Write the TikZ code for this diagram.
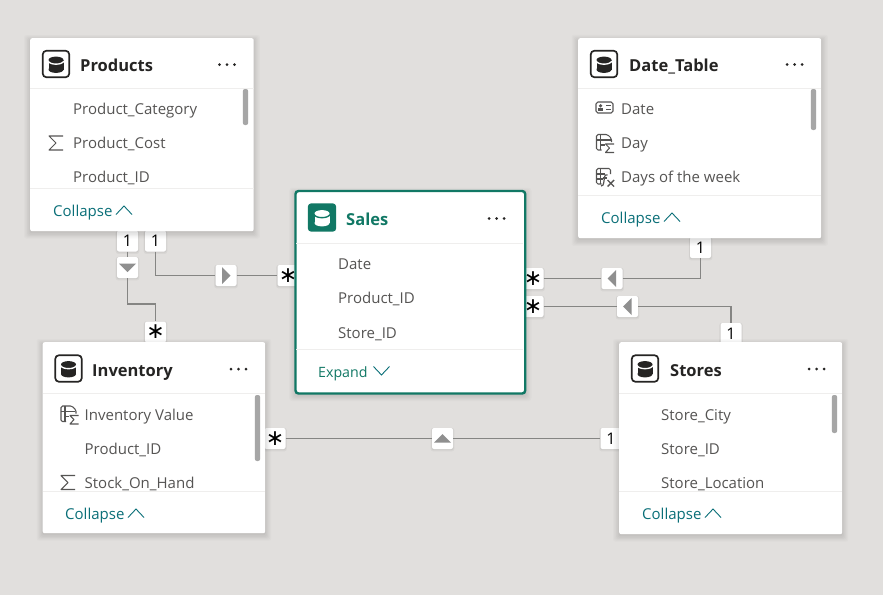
\documentclass[tikz,border=0pt]{standalone}
\usepackage{fontspec}
\setmainfont{Open Sans}
\usetikzlibrary{shadows}
\definecolor{canvas}{HTML}{E1DFDD}
\definecolor{fieldtxt}{HTML}{555453}
\definecolor{titletxt}{HTML}{252423}
\definecolor{teal}{HTML}{117865}
\definecolor{linkc}{HTML}{0A6F78}
\definecolor{rule}{HTML}{EFEEED}
\definecolor{scroll}{HTML}{A6A6A6}
\definecolor{conline}{HTML}{858583}
\definecolor{arrowc}{HTML}{8F8F8F}
\tikzset{
  x=1pt,y=-1pt,
  softshadow/.style={
    general shadow={fill=black,opacity=.016,shadow xshift=0pt,shadow yshift=-2pt,shadow scale=1.055},
    general shadow={fill=black,opacity=.016,shadow xshift=0pt,shadow yshift=-2pt,shadow scale=1.045},
    general shadow={fill=black,opacity=.02,shadow xshift=0pt,shadow yshift=-2pt,shadow scale=1.035},
    general shadow={fill=black,opacity=.022,shadow xshift=0pt,shadow yshift=-2pt,shadow scale=1.025},
    general shadow={fill=black,opacity=.025,shadow xshift=0pt,shadow yshift=-2pt,shadow scale=1.015},
    general shadow={fill=black,opacity=.028,shadow xshift=0pt,shadow yshift=-1.5pt,shadow scale=1.005}},
  card/.style={softshadow,fill=white,draw=none,rounded corners=2pt,inner sep=0pt,anchor=north west},
  selcard/.style={softshadow,fill=white,draw=teal,line width=2.4pt,rounded corners=3pt,inner sep=0pt,anchor=north west},
  badge/.style={
    general shadow={fill=black,opacity=.04,shadow xshift=0pt,shadow yshift=-1pt,shadow scale=1.12},
    general shadow={fill=black,opacity=.05,shadow xshift=0pt,shadow yshift=-.6pt,shadow scale=1.05},
    fill=white,draw=none,rounded corners=2pt,minimum width=21pt,minimum height=21pt,inner sep=0pt,
    text=black,font=\fontsize{16}{16}\selectfont},
  starbadge/.style={badge,font=\fontspec{DejaVu Sans}\fontsize{22}{22}\selectfont},
  conn/.style={draw=conline,line width=1.4pt},
  tabletitle/.style={anchor=base west,inner sep=0pt,yshift=-.5pt,text=titletxt,font=\fontsize{16.5}{18}\selectfont\bfseries},
  field/.style={anchor=base west,inner sep=0pt,yshift=-.8pt,text=fieldtxt,font=\fontsize{15}{16}\selectfont},
  linktxt/.style={anchor=base west,inner sep=0pt,yshift=-.8pt,text=linkc,font=\fontsize{15}{16}\selectfont},
  chev/.style={draw=linkc,line width=.9pt},
  divider/.style={draw=rule,line width=1pt},
  ico/.style={draw=fieldtxt,line width=1.05pt,line join=round},
}
\newcommand{\dbicon}[2]{\begin{scope}[shift={(#1,#2)}]
  \draw[draw=titletxt,line width=1.7pt,rounded corners=3.5pt] (-13.2,-13.2) rectangle (13.2,13.2);
  \fill[titletxt] (-7.5,-4) rectangle (7.5,5.5);
  \fill[titletxt] (0,-4) ellipse [x radius=7.5,y radius=3.4];
  \fill[titletxt] (0,5.5) ellipse [x radius=7.5,y radius=3.4];
  \draw[white,line width=1.4pt] (-8,-3) .. controls (-6,1.2) and (6,1.2) .. (8,-3);
\end{scope}}
\newcommand{\selicon}[2]{\begin{scope}[shift={(#1,#2)}]
  \fill[teal,rounded corners=3.5pt] (-14.2,-14.2) rectangle (14.2,14.2);
  \fill[white] (-7.5,-4) rectangle (7.5,5.5);
  \fill[white] (0,-4) ellipse [x radius=7.5,y radius=3.4];
  \fill[white] (0,5.5) ellipse [x radius=7.5,y radius=3.4];
  \draw[teal,line width=1.4pt] (-8,-3) .. controls (-6,1.2) and (6,1.2) .. (8,-3);
\end{scope}}
\newcommand{\threedots}[2]{\foreach \d in {-7.5,0,7.5}{\fill[titletxt] (#1+\d,#2) circle (1.5);}}
\newcommand{\sigmaicon}[2]{\draw[ico] (#1+7,#2-7) -- (#1-7,#2-7) -- (#1,#2) -- (#1-7,#2+7) -- (#1+7,#2+7);}
\newcommand{\measicon}[2]{\begin{scope}[shift={(#1,#2)}]
  \draw[ico,rounded corners=1.5pt] (-3,7) -- (-8,7) -- (-8,-8.5) -- (3,-8.5) -- (7,-4.5) -- (7,-1);
  \draw[ico] (-4,-8.5) -- (-4,7) (-8,-3) -- (6,-3) (-4,2) -- (0,2);
  \draw[ico] (9.5,1) -- (1,1) -- (5,5) -- (1,9.5) -- (9.5,9.5);
\end{scope}}
\newcommand{\calcicon}[2]{\begin{scope}[shift={(#1,#2)}]
  \draw[ico,rounded corners=1.5pt] (-3,7) -- (-8,7) -- (-8,-8.5) -- (6,-8.5) -- (6,-3);
  \draw[ico] (-4,-8.5) -- (-4,7) (-8,-3) -- (0,-3) (-8,2) -- (-2,2);
  \draw[ico,line width=1.2pt] (3,-2) .. controls (0,-3) and (0,0) .. (-.5,4) .. controls (-1,8) and (-2,9.5) .. (-3.5,9);
  \draw[ico] (-2,1) -- (2.5,1);
  \draw[ico,line width=1.4pt] (3,3) -- (9.5,9.5) (9.5,3) -- (3,9.5);
\end{scope}}
\newcommand{\idicon}[2]{\begin{scope}[shift={(#1,#2)}]
  \draw[ico,rounded corners=1.8pt] (-8.5,-5.5) rectangle (8.5,5.5);
  \fill[fieldtxt] (-4,-1.7) circle (1.8);
  \fill[fieldtxt] (-6.7,3.3) rectangle (-1.3,.8);
  \draw[ico] (1.5,-1.7) -- (6,-1.7) (1.5,1.8) -- (6,1.8);
\end{scope}}
\newcommand{\chevup}[2]{\draw[chev] (#1-8,#2+4.5) -- (#1,#2-4) -- (#1+8,#2+4.5);}
\newcommand{\chevdown}[2]{\draw[chev] (#1-8,#2-4.5) -- (#1,#2+4) -- (#1+8,#2-4.5);}
\newcommand{\scrollbar}[3]{\fill[scroll,rounded corners=2pt] (#1-2.6,#2) rectangle (#1+2.6,#3);}
\begin{document}
\begin{tikzpicture}
\useasboundingbox (0,0) rectangle (883,595);
\fill[canvas] (0,0) rectangle (883,595);

% relationship end badges
\node[badge] (pOneA) at (127.5,241) {1};
\node[badge] (pOneB) at (155.5,241) {1};
\node[starbadge] (iStarTop) at (155.5,332) {∗};
\node[starbadge] (sStarL) at (288,275.5) {∗};
\node[starbadge] (sStarR) at (533,278.5) {∗};
\node[starbadge] (sStarS) at (533,306.5) {∗};
\node[badge] (dOne) at (700.5,247.5) {1};
\node[badge] (stOneTop) at (731,333.5) {1};
\node[starbadge] (iStarR) at (275,438.5) {∗};
\node[badge] (stOneL) at (611,438.5) {1};
% filter direction badges
\node[badge] (aDown) at (127.5,267.5) {};
\node[badge] (aRight) at (226,275.5) {};
\node[badge] (aLeftA) at (612,278.5) {};
\node[badge] (aLeftB) at (627.5,306.5) {};
\node[badge] (aUp) at (442.5,438.5) {};
% bends
\coordinate (kA) at (127.5,304);
\coordinate (kB) at (155.5,304);
\coordinate (kC) at (155.5,275.5);
\coordinate (kD) at (700.5,278.5);
\coordinate (kE) at (731,306.5);
% connectors
\draw[conn] (pOneA.south) -- (aDown.north);
\draw[conn] (aDown.south) -- (kA) -- (kB) -- (iStarTop.north);
\draw[conn] (pOneB.south) -- (kC) -- (aRight.west);
\draw[conn] (aRight.east) -- (sStarL.west);
\draw[conn] (sStarR.east) -- (aLeftA.west);
\draw[conn] (aLeftA.east) -- (kD) -- (dOne.south);
\draw[conn] (sStarS.east) -- (aLeftB.west);
\draw[conn] (aLeftB.east) -- (kE) -- (stOneTop.north);
\draw[conn] (iStarR.east) -- (aUp.west);
\draw[conn] (aUp.east) -- (stOneL.west);
% triangles
\fill[arrowc] ([shift={(-8.5,-4)}]aDown.center) -- ([shift={(8.5,-4)}]aDown.center) -- ([shift={(0,4.5)}]aDown.center) -- cycle;
\fill[arrowc] ([shift={(-4,-8.5)}]aRight.center) -- ([shift={(-4,8.5)}]aRight.center) -- ([shift={(4.5,0)}]aRight.center) -- cycle;
\fill[arrowc] ([shift={(4,-8.5)}]aLeftA.center) -- ([shift={(4,8.5)}]aLeftA.center) -- ([shift={(-4.5,0)}]aLeftA.center) -- cycle;
\fill[arrowc] ([shift={(4,-8.5)}]aLeftB.center) -- ([shift={(4,8.5)}]aLeftB.center) -- ([shift={(-4.5,0)}]aLeftB.center) -- cycle;
\fill[arrowc] ([shift={(-8.5,4)}]aUp.center) -- ([shift={(8.5,4)}]aUp.center) -- ([shift={(0,-4.5)}]aUp.center) -- cycle;

% Products
\node[card,minimum width=223.5pt,minimum height=193pt] (products) at (30,38) {};
\dbicon{56}{64}
\node[tabletitle] (tProducts) at (80,71) {Products};
\threedots{227}{64.5}
\draw[divider] (30,88.5) -- (253.5,88.5);
\draw[divider] (30,188.5) -- (253.5,188.5);
\scrollbar{245.5}{89}{125}
\node[field] at (73,113.5) {Product\_Category};
\sigmaicon{56}{143}
\node[field] at (73,147.5) {Product\_Cost};
\node[field] at (73,181.5) {Product\_ID};
\node[linktxt] at (53,215.5) {Collapse};
\chevup{124}{210}

% Date_Table
\node[card,minimum width=243pt,minimum height=200pt] (datetable) at (578,38) {};
\dbicon{604}{64}
\node[tabletitle] (tDate) at (629,71) {Date\_Table};
\threedots{794.5}{64.5}
\draw[divider] (578,88.5) -- (821,88.5);
\draw[divider] (578,195.5) -- (821,195.5);
\scrollbar{813.5}{89}{130}
\idicon{604.5}{107.5}
\node[field] at (621,113.5) {Date};
\measicon{604.5}{143}
\node[field] at (621,147.5) {Day};
\calcicon{604.5}{177}
\node[field] at (621,181.5) {Days of the week};
\node[linktxt] at (601,222.5) {Collapse};
\chevup{672}{217}

% Inventory
\node[card,minimum width=222.5pt,minimum height=191pt] (inventory) at (42.5,342) {};
\dbicon{68.5}{368.5}
\node[tabletitle] (tInv) at (92,375.5) {Inventory};
\threedots{238.5}{369}
\draw[divider] (42.5,393.5) -- (265,393.5);
\draw[divider] (42.5,491.5) -- (265,491.5);
\scrollbar{257.5}{395}{461}
\measicon{69}{414.5}
\node[field] at (84.5,419.5) {Inventory Value};
\node[field] at (84.5,453.5) {Product\_ID};
\sigmaicon{68}{482.5}
\node[field] at (84.5,487.5) {Stock\_On\_Hand};
\node[linktxt] at (65,518.5) {Collapse};
\chevup{136}{513}

% Stores
\node[card,minimum width=223pt,minimum height=192pt] (stores) at (619,342) {};
\dbicon{645}{368.5}
\node[tabletitle] (tStores) at (670,375.5) {Stores};
\threedots{816.5}{369}
\draw[divider] (619,393.5) -- (842,393.5);
\draw[divider] (619,491.5) -- (842,491.5);
\scrollbar{834.5}{395}{433}
\node[field] at (661,419.5) {Store\_City};
\node[field] at (661,453.5) {Store\_ID};
\node[field] at (661,487.5) {Store\_Location};
\node[linktxt] at (642,518.5) {Collapse};
\chevup{713}{513}

% Sales
\node[selcard,minimum width=229.7pt,minimum height=202.5pt] (sales) at (294.3,189.8) {};
\selicon{322}{217.5}
\node[tabletitle,text=teal] (tSales) at (346,225) {Sales};
\threedots{496.5}{218.5}
\draw[divider] (296,243.5) -- (523,243.5);
\draw[divider] (296,349.5) -- (523,349.5);
\node[field] at (338,268.5) {Date};
\node[field] at (338,302.5) {Product\_ID};
\node[field] at (338,337.5) {Store\_ID};
\node[linktxt,text=teal,font=\fontsize{14.2}{16}\selectfont] at (318,376.5) {Expand};
\chevdown{381.5}{371}
\end{tikzpicture}
\end{document}
